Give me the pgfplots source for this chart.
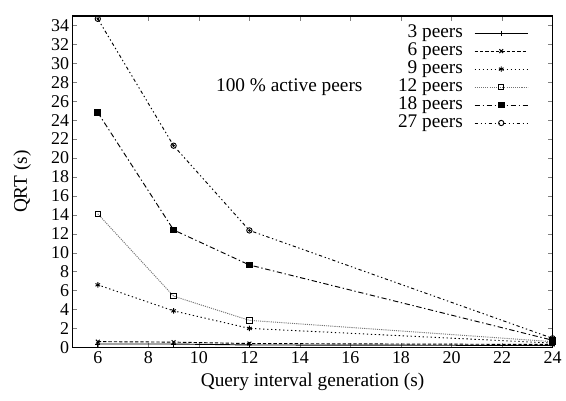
\documentclass[border=0pt]{standalone}
\usepackage{fontspec}
\setmainfont{Liberation Serif}
\usepackage{pgfplots}
\pgfplotsset{compat=1.18}

\begin{document}
\begin{tikzpicture}
\begin{axis}[name=ax,scale only axis,width=360.75pt,height=249pt,
  xmin=5,xmax=24,ymin=0,ymax=35,
  xtick={6,8,...,24},ytick={0,2,...,34},
  xticklabels={6,8,10,12,14,16,18,20,22,24},
  yticklabels={0,2,4,6,8,10,12,14,16,18,20,22,24,26,28,30,32,34},
  tick align=inside,major tick length=3.5pt,
  xtick pos=both,ytick pos=both,
  axis line style={line width=0.8pt},
  tick label style={font=\fontsize{13.5}{14}\selectfont},
  yticklabel style={xshift=1pt},
  label style={font=\fontsize{14.5}{15}\selectfont},
  xlabel={Query interval generation (s)},ylabel={QRT (s)},
  xlabel style={at={(axis description cs:0.5,-0.104)},anchor=center},
  ylabel style={at={(axis description cs:-0.105,0.5)},anchor=center},
  legend style={at={(0.95,0.976)},anchor=north east,draw=none,fill=none,
    font=\fontsize{14.5}{13.5}\selectfont,row sep=0pt,column sep=8pt,inner sep=0pt,
    nodes={inner sep=0.5pt,text height=9.5pt,text depth=3pt}},
  legend cell align=right,legend plot pos=right,
  legend image code/.code={\draw[mark repeat=2,mark phase=2] plot coordinates {(0pt,0pt) (20pt,0pt) (40pt,0pt)};},
  every axis plot/.append style={black,line width=0.7pt,mark size=2pt}]
\addplot[solid,mark=+,mark options={solid}] coordinates {(6,0.35) (9,0.35) (12,0.25) (24,0.2)};
\addplot[dash pattern=on 2.5pt off 1.5pt,mark=x,mark options={solid}] coordinates {(6,0.6) (9,0.55) (12,0.4) (24,0.3)};
\addplot[dash pattern=on 1pt off 2pt,mark=asterisk,mark options={solid}] coordinates {(6,6.6) (9,3.85) (12,2.0) (24,0.45)};
\addplot[dash pattern=on 0.8pt off 0.8pt,black!55,mark=square,mark options={solid,black}] coordinates {(6,14.1) (9,5.4) (12,2.85) (24,0.6)};
\addplot[dash pattern=on 4pt off 2pt on 1pt off 2pt,mark=square*,mark size=2.2pt,mark options={solid}] coordinates {(6,24.8) (9,12.4) (12,8.7) (24,0.75)};
\addplot[dash pattern=on 2.5pt off 2pt on 1pt off 2pt on 1pt off 2pt,mark=o,mark options={solid}] coordinates {(6,34.7) (9,21.3) (12,12.35) (24,0.95)};
\addplot[only marks,mark=*,mark size=0.6pt,forget plot] coordinates {(6,34.7) (9,21.3) (12,12.35) (24,0.95)};
\legend{3 peers,6 peers,9 peers,12 peers,18 peers,27 peers}
\node[font=\fontsize{14.5}{15}\selectfont,anchor=west] at (axis cs:10.5,27.5) {100 \% active peers};
\end{axis}
\path[use as bounding box] ([xshift=-54.5pt,yshift=-39.75pt]ax.south west) rectangle ++(424.5pt,300.75pt);
\end{tikzpicture}
\end{document}
